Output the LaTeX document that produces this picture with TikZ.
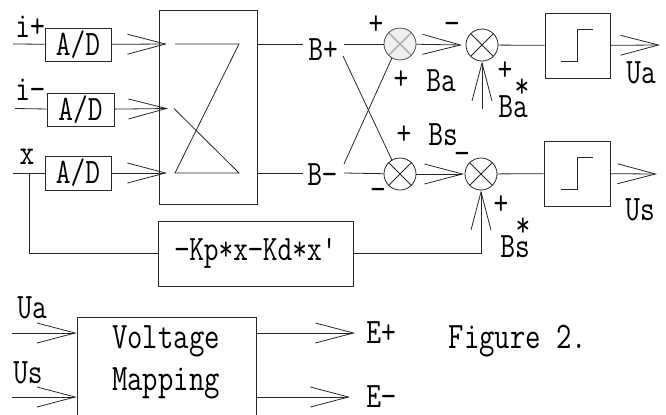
\documentclass[tikz,border=0pt]{standalone}
\usepackage{fontspec}
\usepackage{tikz}
\usetikzlibrary{arrows.meta}
\newfontfamily\plotfont[FakeStretch=0.8]{Latin Modern Mono}
\tikzset{
  wire/.style={draw=black!85,line width=0.6pt},
  sig/.style={wire,-{Straight Barb[length=28.5pt,width=15pt]}},
  blockbox/.style={wire,inner sep=0pt,font=\plotfont\fontsize{26.8}{28}\selectfont},
  sumnode/.style={circle,wire,minimum size=24pt,inner sep=0pt,
    path picture={\draw[black!85,line width=0.6pt] (path picture bounding box.north west) -- (path picture bounding box.south east)
      (path picture bounding box.north east) -- (path picture bounding box.south west);}},
  sumfaded/.style={circle,draw=black!70,fill=gray!12,line width=0.6pt,minimum size=24pt,inner sep=0pt,
    path picture={\draw[gray!60,line width=1.2pt] (path picture bounding box.north west) -- (path picture bounding box.south east)
      (path picture bounding box.north east) -- (path picture bounding box.south west);}},
  lbl/.style={inner sep=0pt,font=\plotfont\fontsize{26.8}{28}\selectfont},
  lblwide/.style={lbl,font=\plotfont\fontsize{28}{28}\selectfont}
}

\begin{document}
\begin{tikzpicture}[x=0.75pt,y=0.75pt,yscale=-1,xscale=1]
    \useasboundingbox (0,0) rectangle (666,414);

    %Shape: Rectangle A/D
    \node (adplus) [blockbox,minimum width=49.5pt,minimum height=24.75pt] at (78,44.5) {A/D};
    \node (adminus) [blockbox,minimum width=50.25pt,minimum height=24.75pt] at (80.5,109.5) {A/D};
    \node (adx) [blockbox,minimum width=49.5pt,minimum height=25.5pt] at (78,173) {A/D};
    %Shape: Rectangle matrix
    \node (matrix) [blockbox,minimum width=73.5pt,minimum height=145.5pt] at (208,107) {};
    %Shape: Rectangle relay
    \node (relaya) [blockbox,minimum width=48.75pt,minimum height=48.75pt] at (577.5,45.5) {};
    \node (relays) [blockbox,minimum width=49.5pt,minimum height=48.75pt] at (577,173.5) {};
    %Shape: Rectangle feedback
    \node (feedback) [blockbox,minimum width=146.25pt,minimum height=48.75pt] at (255.5,253.5) {−Kp*x−Kd*x'};
    %Shape: Rectangle mapping
    \node (mapping) [blockbox,minimum width=134.25pt,minimum height=84.75pt,align=center] at (166.5,373.5) {};

    %Shape: Circle
    \node (sumtopa) [sumfaded] at (400,44) {};
    \node (sumtopb) [sumnode] at (482,45) {};
    \node (sumlowa) [sumnode] at (400,174) {};
    \node (sumlowb) [sumnode] at (481,174) {};

    % Free ends
    \coordinate (inplus) at (13,44);
    \coordinate (inminus) at (15,108.5);
    \coordinate (inx) at (13,173);
    \coordinate (tapx) at (29,173);
    \coordinate (tipplus) at (167,44);
    \coordinate (tipminus) at (168,108.5);
    \coordinate (tipx) at (167,173);
    \coordinate (mtl) at (175,44);
    \coordinate (mtr) at (239,44);
    \coordinate (mml) at (174,108.5);
    \coordinate (mbl) at (175,173);
    \coordinate (mbr) at (239,173);
    \coordinate (endbp) at (303,44);
    \coordinate (endbm) at (303,173);
    \coordinate (startbp) at (344,44);
    \coordinate (startbm) at (344,173);
    \coordinate (crossa) at (343,56);
    \coordinate (crossb) at (344,164);
    \coordinate (tiptop) at (462,45);
    \coordinate (tiplow) at (464,174);
    \coordinate (feedtop) at (482,109);
    \coordinate (corner) at (481,253.5);
    \coordinate (tipua) at (660,45);
    \coordinate (tipus) at (657,174);
    \coordinate (startua) at (12,333);
    \coordinate (startus) at (12,397);
    \coordinate (tipea) at (355,333);
    \coordinate (tipes) at (350,397);

    % A/D inputs
    \draw [wire] (inplus) -- (adplus);
    \draw [wire] (inminus) -- (adminus);
    \draw [wire] (inx) -- (adx);
    \draw [sig] (adplus) -- (tipplus);
    \draw [sig] (adminus) -- (tipminus);
    \draw [sig] (adx) -- (tipx);
    % inside matrix
    \draw [wire] (mtl) -- (mtr) -- (mbl) -- (mbr) -- (mml);
    % B lines
    \draw [wire] (mtr -| matrix.east) -- (endbp);
    \draw [wire] (mbr -| matrix.east) -- (endbm);
    \draw [wire] (startbp) -- (sumtopa);
    \draw [wire] (startbm) -- (sumlowa);
    \draw [wire] (crossa) -- (sumlowa.120);
    \draw [wire] (crossb) -- (sumtopa.240);
    % summing
    \draw [sig] (sumtopa) -- (tiptop);
    \draw [sig] (sumlowa) -- (tiplow);
    \draw [sig] (feedtop) -- (sumtopb.south);
    \draw [sig] (corner) -- (sumlowb.south);
    \draw [wire] (sumtopb) -- (relaya);
    \draw [wire] (sumlowb) -- (relays);
    \draw [sig] (relaya) -- (tipua);
    \draw [sig] (relays) -- (tipus);
    % feedback
    \draw [wire] (tapx) -- (tapx |- feedback.west) -- (feedback);
    \draw [wire] (feedback) -- (corner);
    % mapping
    \draw [sig] (startua) -- (startua -| mapping.west);
    \draw [sig] (startus) -- (startus -| mapping.west);
    \draw [sig] (tipea -| mapping.east) -- (tipea);
    \draw [sig] (tipes -| mapping.east) -- (tipes);

    %Shape: relay steps
    \draw [wire] (561,61) -- (577,61) -- (577,29) -- (593,29);
    \draw [wire] (561,189) -- (577,189) -- (577,157) -- (593,157);

    % Text Node
    \node (lip) [lbl] at (30,27) {i+};
    \node (lim) [lbl] at (30,90) {i−};
    \node (lx) [lbl] at (27,157) {x};
    \node (lbp) [lbl] at (323,50) {B+};
    \node (lbm) [lbl] at (322,175) {B−};
    \node (lpa) [lbl] at (376,25) {+};
    \node (lma) [lbl] at (452,28) {−};
    \node (lpb) [lbl] at (401,80) {+};
    \node (lba) [lbl] at (441,81) {Ba};
    \node (lpc) [lbl] at (505,71) {+};
    \node (lsa) [lbl] at (522,88) {*};
    \node (lbas) [lbl] at (513,107) {Ba};
    \node (lpd) [lbl] at (404,135) {+};
    \node (lbs) [lbl] at (443,135) {Bs};
    \node (lme) [lbl] at (462,158) {−};
    \node (lmf) [lbl] at (378,194) {−};
    \node (lpf) [lbl] at (501,205) {+};
    \node (lsb) [lbl] at (523,227) {*};
    \node (lbss) [lbl] at (515,247) {Bs};
    \node (lua) [lbl] at (641,73) {Ua};
    \node (lus) [lbl] at (640,210) {Us};
    \node (lmua) [lbl] at (32,308) {Ua};
    \node (lmus) [lbl] at (28,373) {Us};
    \node (lvolt) [lblwide] at (166,341) {Voltage};
    \node (lmap) [lblwide] at (166,383) {Mapping};
    \node (lep) [lbl] at (381,333) {E+};
    \node (lem) [lbl] at (381,397) {E−};
    \node (lfig) [lblwide] at (518,341) {Figure 2.};

\end{tikzpicture}
\end{document}
